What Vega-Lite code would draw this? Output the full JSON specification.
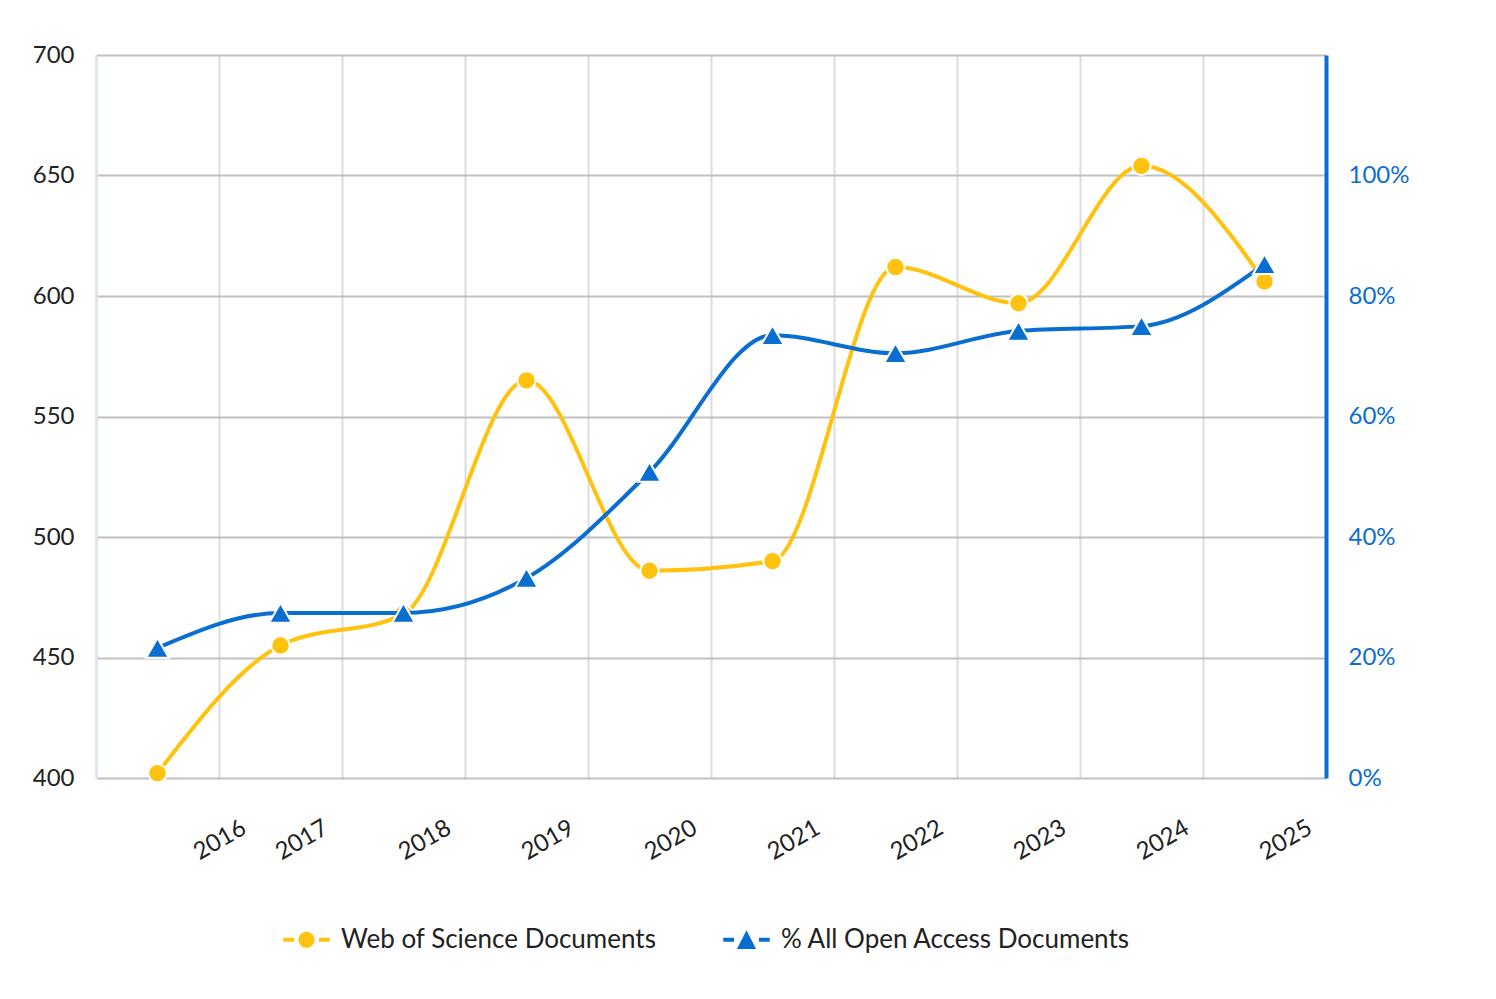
{
  "$schema": "https://vega.github.io/schema/vega-lite/v6.json",
  "width": 1230,
  "height": 723,
  "autosize": {"type": "none"},
  "padding": {"left": 96, "top": 55, "right": 170, "bottom": 221},
  "background": "white",
  "config": {
    "view": {"stroke": null},
    "font": "Lato",
    "legend": {"labelFont": "Lato", "layout": {"bottom": {"anchor": "middle"}}}
  },
  "data": {
    "values": [
      {"year": "2016", "series": "Web of Science Documents", "value": 402},
      {"year": "2017", "series": "Web of Science Documents", "value": 455},
      {"year": "2018", "series": "Web of Science Documents", "value": 468},
      {"year": "2019", "series": "Web of Science Documents", "value": 565},
      {"year": "2020", "series": "Web of Science Documents", "value": 486},
      {"year": "2021", "series": "Web of Science Documents", "value": 490},
      {"year": "2022", "series": "Web of Science Documents", "value": 612},
      {"year": "2023", "series": "Web of Science Documents", "value": 597},
      {"year": "2024", "series": "Web of Science Documents", "value": 654},
      {"year": "2025", "series": "Web of Science Documents", "value": 606},
      {"year": "2016", "series": "% All Open Access Documents", "value": 0.216},
      {"year": "2017", "series": "% All Open Access Documents", "value": 0.274},
      {"year": "2018", "series": "% All Open Access Documents", "value": 0.274},
      {"year": "2019", "series": "% All Open Access Documents", "value": 0.332},
      {"year": "2020", "series": "% All Open Access Documents", "value": 0.508},
      {"year": "2021", "series": "% All Open Access Documents", "value": 0.735},
      {"year": "2022", "series": "% All Open Access Documents", "value": 0.705},
      {"year": "2023", "series": "% All Open Access Documents", "value": 0.742},
      {"year": "2024", "series": "% All Open Access Documents", "value": 0.75},
      {"year": "2025", "series": "% All Open Access Documents", "value": 0.853}
    ]
  },
  "encoding": {
    "x": {
      "field": "year",
      "type": "ordinal",
      "sort": null,
      "scale": {"type": "band", "paddingInner": 0, "paddingOuter": 0},
      "axis": {
        "title": null,
        "domain": false,
        "ticks": false,
        "grid": true,
        "gridColor": "#dcdcdc",
        "gridWidth": 2,
        "bandPosition": 0,
        "labelAngle": -30,
        "labelAlign": "left",
        "labelBaseline": "alphabetic",
        "labelPadding": 82,
        "labelFontSize": 24,
        "labelColor": "#222222",
        "labelOffset": {"condition": {"test": "datum.value == '2016'", "value": 42}, "value": 1}
      }
    }
  },
  "layer": [
    {
      "transform": [{"filter": "datum.series === 'Web of Science Documents'"}],
      "encoding": {
        "y": {
          "field": "value",
          "type": "quantitative",
          "scale": {"domain": [400, 700], "nice": false, "zero": false},
          "axis": {
            "title": null,
            "orient": "left",
            "values": [400, 450, 500, 550, 600, 650, 700],
            "domainColor": "#dde5ee",
            "domainWidth": 3,
            "ticks": false,
            "grid": true,
            "gridColor": "#c0c0c0",
            "gridWidth": 2,
            "labelFontSize": 24,
            "labelColor": "#222222",
            "labelPadding": 22
          }
        }
      },
      "layer": [
        {"mark": {"type": "line", "interpolate": "monotone", "color": "#ffc20e", "strokeWidth": 4}},
        {"mark": {"type": "point", "shape": "circle", "filled": true, "size": 340, "color": "#ffc20e", "opacity": 1, "stroke": "white", "strokeWidth": 2}},
        {
          "mark": {"type": "point", "filled": true, "opacity": 0},
          "encoding": {
            "shape": {
              "field": "series",
              "type": "nominal",
              "scale": {
                "domain": ["Web of Science Documents", "% All Open Access Documents"],
                "range": [
                  "M-1.5,-0.13H-0.8V0.13H-1.5Z M0.8,-0.13H1.5V0.13H0.8Z M0.52,0A0.52,0.52 0 1,1 -0.52,0A0.52,0.52 0 1,1 0.52,0Z",
                  "M-1.5,-0.13H-0.8V0.13H-1.5Z M0.8,-0.13H1.5V0.13H0.8Z M0,-0.62L0.62,0.6L-0.62,0.6Z"
                ]
              },
              "legend": {
                "title": null,
                "orient": "bottom",
                "direction": "horizontal",
                "offset": 59,
                "symbolSize": 960,
                "symbolOpacity": 1,
                "symbolStrokeWidth": 0,
                "labelFontSize": 26,
                "labelColor": "#222222",
                "labelOffset": 19,
                "labelLimit": 600,
                "columnPadding": 66
              }
            },
            "color": {
              "field": "series",
              "type": "nominal",
              "scale": {
                "domain": ["Web of Science Documents", "% All Open Access Documents"],
                "range": ["#ffc20e", "#0a6ed1"]
              },
              "legend": {
                "title": null,
                "orient": "bottom",
                "direction": "horizontal",
                "offset": 59,
                "symbolSize": 960,
                "symbolOpacity": 1,
                "symbolStrokeWidth": 0,
                "labelFontSize": 26,
                "labelColor": "#222222",
                "labelOffset": 19,
                "labelLimit": 600,
                "columnPadding": 66
              }
            }
          }
        }
      ]
    },
    {
      "transform": [{"filter": "datum.series === '% All Open Access Documents'"}],
      "encoding": {
        "y": {
          "field": "value",
          "type": "quantitative",
          "scale": {"domain": [0, 1.2], "nice": false},
          "axis": {
            "title": null,
            "orient": "right",
            "values": [0, 0.2, 0.4, 0.6, 0.8, 1.0],
            "format": ".0%",
            "domainColor": "#0a6ed1",
            "domainWidth": 4,
            "ticks": false,
            "grid": false,
            "labelFontSize": 24,
            "labelColor": "#0a6ed1",
            "labelPadding": 22
          }
        }
      },
      "layer": [
        {"mark": {"type": "line", "interpolate": "monotone", "color": "#0a6ed1", "strokeWidth": 4}},
        {"mark": {"type": "point", "shape": "triangle-up", "filled": true, "size": 520, "color": "#0a6ed1", "opacity": 1, "stroke": "white", "strokeWidth": 2}}
      ]
    }
  ],
  "resolve": {"scale": {"y": "independent"}}
}
